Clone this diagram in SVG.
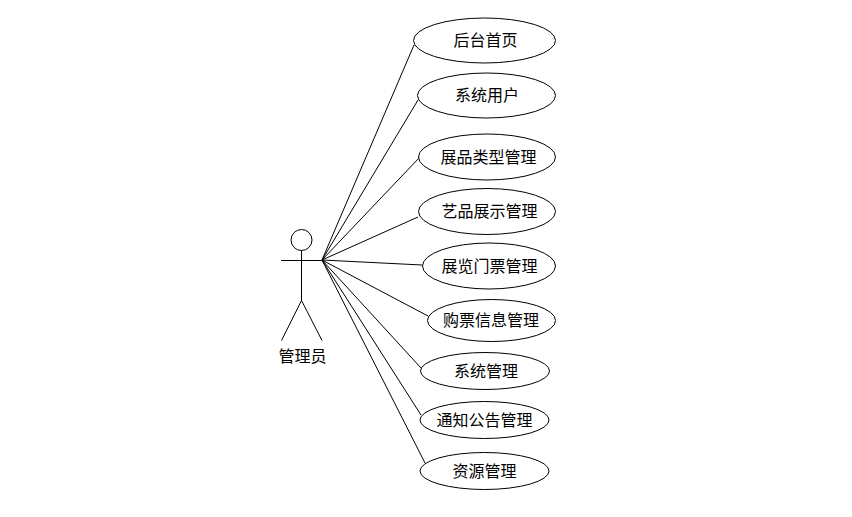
<svg xmlns="http://www.w3.org/2000/svg" width="852" height="517" viewBox="0 0 852 517">
<style>
.s{fill:none;stroke:#000;stroke-width:1}
.e{fill:#fff;stroke:#000;stroke-width:1}
text{font-family:"Noto Sans CJK SC","Microsoft YaHei","Liberation Sans",sans-serif;font-size:16px;fill:#000;text-anchor:middle}
</style>
<rect width="852" height="517" fill="#fff"/>
<g id="connectors" class="s">
<line x1="322" y1="260" x2="414" y2="45"/>
<line x1="322" y1="260" x2="418" y2="100"/>
<line x1="322" y1="260" x2="419" y2="158"/>
<line x1="322" y1="260" x2="418" y2="217"/>
<line x1="322" y1="260" x2="422" y2="265"/>
<line x1="322" y1="260" x2="428" y2="316"/>
<line x1="322" y1="260" x2="421" y2="368"/>
<line x1="322" y1="260" x2="421" y2="415"/>
<line x1="322" y1="260" x2="425" y2="463"/>
</g>
<g id="actor">
<circle class="s" cx="301.500" cy="240" r="10.500"/>
<line class="s" x1="301.500" y1="250.500" x2="301.500" y2="300.500"/>
<line class="s" x1="281" y1="260.500" x2="322" y2="260.500"/>
<path class="s" d="M281.500 340.500L301.500 300.500L322 340.500"/>
<text x="302.500" y="362">管理员</text>
</g>
<g id="n1"><ellipse class="e" cx="484.500" cy="40.500" rx="71" ry="22.500"/><text x="485.500" y="46">后台首页</text></g>
<g id="n2"><ellipse class="e" cx="486.500" cy="95.500" rx="69" ry="22.500"/><text x="487" y="101">系统用户</text></g>
<g id="n3"><ellipse class="e" cx="487" cy="157" rx="68.500" ry="23"/><text x="488.500" y="163">展品类型管理</text></g>
<g id="n4"><ellipse class="e" cx="487" cy="211.500" rx="68.500" ry="23"/><text x="489.500" y="217">艺品展示管理</text></g>
<g id="n5"><ellipse class="e" cx="489" cy="266" rx="66.500" ry="23"/><text x="489.500" y="272">展览门票管理</text></g>
<g id="n6"><ellipse class="e" cx="491.500" cy="320.500" rx="64" ry="21"/><text x="491" y="326">购票信息管理</text></g>
<g id="n7"><ellipse class="e" cx="485" cy="371" rx="64.500" ry="18.500"/><text x="486" y="377">系统管理</text></g>
<g id="n8"><ellipse class="e" cx="484.500" cy="420" rx="64.500" ry="18.500"/><text x="484.500" y="426">通知公告管理</text></g>
<g id="n9"><ellipse class="e" cx="484.500" cy="471" rx="64.500" ry="18.500"/><text x="484.500" y="477">资源管理</text></g>
</svg>
